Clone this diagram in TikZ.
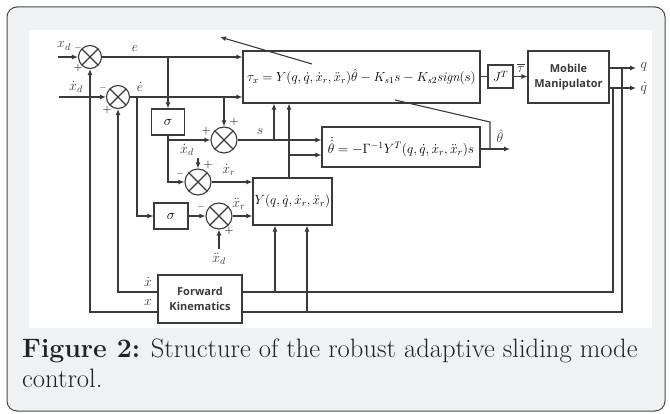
\RequirePackage{fix-cm}
\documentclass[tikz,border=0pt]{standalone}
\usepackage{fontspec}
\usepackage{amsmath}
\newfontfamily\sansb{Open Sans}
\usetikzlibrary{arrows.meta}
\definecolor{lc}{HTML}{3A3A3A}
\definecolor{panel}{HTML}{F0F1F3}
\definecolor{framec}{HTML}{4A4A4A}
\definecolor{capc}{HTML}{222222}
\tikzset{
  wire/.style={draw=lc, line width=1.1pt},
  arr/.style={wire, -{Latex[length=6pt,width=5pt]}},
  sumn/.style={circle, draw=lc, line width=1.1pt, minimum size=23pt, inner sep=0pt, fill=white,
    path picture={\draw[lc,line width=1.1pt] (path picture bounding box.north west)--(path picture bounding box.south east)
      (path picture bounding box.north east)--(path picture bounding box.south west);}},
  blk/.style={draw=lc, line width=1.1pt, fill=white, inner sep=0pt},
  lab/.style={inner sep=0pt, text=lc, font=\fontsize{14}{16}\selectfont},
  sg/.style={inner sep=0pt, text=lc, font=\fontsize{10}{12}\selectfont\bfseries},
  sansbox/.style={blk, align=center, text=lc, font=\sansb\bfseries\fontsize{11}{15}\selectfont},
  captext/.style={anchor=base west, inner sep=0pt, text=capc, font=\fontsize{26.6}{30}\selectfont}
}
\begin{document}
\begin{tikzpicture}[x=1pt,y=-1pt]
\useasboundingbox (0,0) rectangle (670,414);
\fill[white] (0,0) rectangle (670,414);
\draw[draw=framec, fill=panel, line width=1pt, rounded corners=10pt] (7,7) rectangle (665,411);
\fill[white] (29,30) rectangle (652,328);

% sums
\node[sumn] (s1) at (90,57) {};
\node[sumn] (s2) at (118,97) {};
\node[sumn,minimum size=26pt] (s3) at (224,140) {};
\node[sumn,minimum size=26pt] (s4) at (198,182) {};
\node[sumn,minimum size=26pt] (s5) at (219,216) {};
% blocks
\node[blk,minimum width=33pt,minimum height=26pt] (sig1) at (168,122) {\fontsize{14}{16}\selectfont$\sigma$};
\node[blk,minimum width=34pt,minimum height=26pt] (sig2) at (171,216) {\fontsize{14}{16}\selectfont$\sigma$};
\node[blk,minimum width=237pt,minimum height=52pt] (main) at (361.5,77)
  {\fontsize{13.2}{16}\selectfont$\tau_x = Y(q,\dot q,\dot x_r,\ddot x_r)\hat\theta - K_{s1}s - K_{s2}\mathit{sign}(s)$};
\node[blk,minimum width=158pt,minimum height=40pt] (adapt) at (401,147)
  {\fontsize{13.5}{16}\selectfont$\dot{\hat\theta} = -\Gamma^{-1}Y^T(q,\dot q,\dot x_r,\ddot x_r)s$};
\node[blk,minimum width=79pt,minimum height=47pt] (Y) at (292.5,201.5)
  {\fontsize{13.3}{16}\selectfont$Y(q,\dot q,\dot x_r,\ddot x_r)$};
\node[blk,minimum width=25pt,minimum height=23pt] (J) at (500.5,76.5) {\fontsize{13}{15}\selectfont$J^T$};
\node[sansbox,minimum width=81pt,minimum height=52pt] (MM) at (568.5,77) {Mobile\\Manipulator};
\node[sansbox,minimum width=84pt,minimum height=48pt] (FK) at (200,299) {Forward\\Kinematics};

% coordinates
\coordinate (xin) at (58,57);
\coordinate (xdin) at (59,97);
\coordinate (eb) at (168,57);
\coordinate (edb) at (137,97);
\coordinate (edb2) at (224,97);
\coordinate (xdd) at (198,158);
\coordinate (xddd) at (219,249);
\coordinate (sb) at (274,140);
\coordinate (yo) at (289,178);
\coordinate (yb) at (289,155);
\coordinate (tho) at (510,149);
\coordinate (thb) at (490,149);
\coordinate (thk) at (490,122);
\coordinate (tha) at (395,100);
\coordinate (thc) at (312,64);
\coordinate (tht) at (220,37);
\coordinate (qout) at (636,68);
\coordinate (qdout) at (636,88);
\coordinate (qb) at (622,68);
\coordinate (qdb) at (613,88);
\coordinate (qbl) at (622,312);
\coordinate (qdbl) at (613,292);
\coordinate (yq) at (307,312);
\coordinate (yqd) at (275,292);

% wires
\draw[arr] (xin) -- (s1.west);
\draw[arr] (xdin) -- (s2.west);
\draw[arr] (s1.east) -- (main.west |- s1);
\draw[arr] (s2.east) -- (main.west |- s2);
\draw[arr] (eb) -- (sig1.north);
\draw[arr] (edb) |- (sig2.west);
\draw[arr] (edb2) -- (s3.north);
\draw[arr] (sig1.south) |- (s3.west);
\draw[arr] (sig1.south) |- (s4.west);
\draw[arr] (xdd) -- (s4.north);
\draw[arr] (sig2.east) -- (s5.west);
\draw[arr] (xddd) -- (s5.south);
\draw[arr] (s3.east) -- (adapt.west |- s3);
\draw[arr] (sb) -- (sb |- main.south);
\draw[arr] (yo) -- (yo |- main.south);
\draw[arr] (yb) -- (adapt.west |- yb);
\draw[arr] (s4.east) -- (Y.west |- s4);
\draw[arr] (s5.east) -- (Y.west |- s5);
\draw[wire] (main.east |- J) -- (J.west);
\draw[arr] (J.east) -- (MM.west |- J);
\draw[arr] (MM.east |- qout) -- (qout);
\draw[arr] (MM.east |- qdout) -- (qdout);
\draw[wire] (qb) -- (qbl) -- (FK.east |- qbl);
\draw[wire] (qdb) -- (qdbl) -- (FK.east |- qdbl);
\draw[arr] (yq) -- (yq |- Y.south);
\draw[arr] (yqd) -- (yqd |- Y.south);
\draw[arr] (FK.west |- qdbl) -| (s2.south);
\draw[arr] (FK.west |- qbl) -| (s1.south);
\draw[arr] (adapt.east |- tho) -- (tho);
\draw[wire] (thb) -- (thk) -- (tha);
\draw[arr] (thc) -- (tht);

% labels
\node[lab] at (64,46) {$x_d$};
\node[sg] at (78,48) {$-$};
\node[sg] at (78,68) {+};
\node[lab] at (135,48) {$e$};
\node[lab] at (76,87) {$\dot x_d$};
\node[sg] at (103,88) {$-$};
\node[sg] at (107,110) {+};
\node[lab] at (140,87) {$\dot e$};
\node[sg] at (234,122) {+};
\node[sg] at (206,131) {+};
\node[lab] at (260,131) {$s$};
\node[lab] at (187,150) {$\dot x_d$};
\node[sg] at (208,165) {+};
\node[sg] at (180,174) {$-$};
\node[lab] at (229,170) {$\dot x_r$};
\node[sg] at (201,207) {$-$};
\node[lab] at (239,204) {$\ddot x_r$};
\node[sg] at (229,231) {+};
\node[lab] at (219,259) {$\ddot x_d$};
\node[lab] at (521,68) {$\overline{\tau}$};
\node[lab] at (644,67) {$q$};
\node[lab] at (644,88) {$\dot q$};
\node[lab] at (500,136) {$\hat\theta$};
\node[lab] at (148,282) {$\dot x$};
\node[lab] at (148,302) {$x$};

% caption
\node[captext] at (22,358) {\textbf{Figure 2:} Structure of the robust adaptive sliding mode};
\node[captext] at (22,388) {control.};
\end{tikzpicture}
\end{document}
